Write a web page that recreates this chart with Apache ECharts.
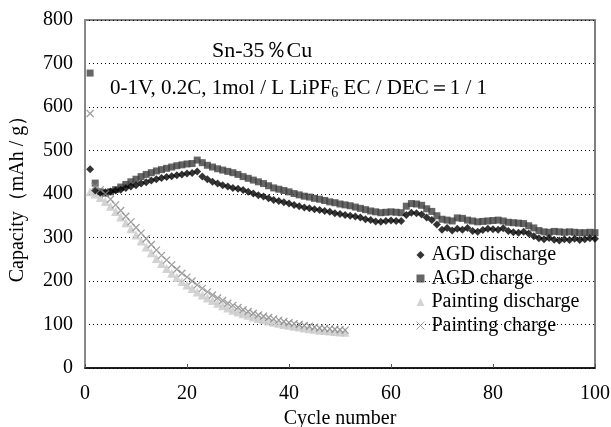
<!DOCTYPE html>
<html>
<head>
<meta charset="utf-8">
<script src="https://cdn.jsdelivr.net/npm/echarts@6/dist/echarts.min.js"></script>
<style>html,body{margin:0;padding:0;background:#fff}#c{width:611px;height:427px}</style>
</head>
<body>
<div id="c"></div>
<script>
var agdDischarge = [457,408,403,404,406,408,410,414,417,420,424,427,431,434,437,439,441,443,445,447,448,452,440,434,428,424,420,417,414,412,409,405,401,397,394,390,386,384,381,378,375,372,369,367,365,363,361,359,356,354,352,350,348,346,342,340,337,336,338,339,338,338,352,357,356,353,346,340,330,318,322,316,320,318,322,315,313,317,320,319,318,321,315,312,311,313,309,303,298,296,299,295,293,296,294,297,294,296,298,297];
var agdCharge = [678,425,405,402,405,410,416,422,428,434,440,445,449,453,456,459,462,465,467,469,470,478,472,466,462,458,455,452,449,445,440,436,432,428,424,419,414,411,408,405,401,398,395,393,390,388,385,382,380,377,375,373,370,367,364,361,359,357,358,359,358,357,372,378,377,374,366,360,350,342,340,338,345,344,340,338,336,337,338,339,340,338,335,334,333,332,327,322,316,313,312,314,313,312,313,312,311,311,312,311];
var paintDischarge = [405,400,392,383,372,360,347,334,320,306,292,278,265,252,240,229,218,208,199,191,183,175,168,161,155,149,143,138,133,129,125,121,117,114,111,108,105,103,100,98,96,94,92,90,89,87,86,85,84,83,82];
var paintCharge = [585,418,410,400,388,375,362,349,336,323,310,297,284,271,259,248,237,227,218,209,200,191,183,175,168,161,155,149,144,139,134,130,126,122,119,116,113,110,107,104,102,100,98,96,94,92,91,90,89,88,87];
var seriesNames = ['AGD discharge','AGD charge','Painting discharge','Painting charge'];
var xTicks = [0,20,40,60,80,100];
var yTicks = [0,100,200,300,400,500,600,700,800];

function pairs(arr){ return arr.map(function(v,i){ return [i+1, v]; }); }
var FONT = 'Liberation Serif';
var crossPath = 'path://M0,0L10,10M10,0L0,10';

var chart = echarts.init(document.getElementById('c'));
chart.setOption({
  animation:false,
  textStyle:{fontFamily:FONT},
  grid:{left:85,right:16,top:20,bottom:59,containLabel:false,outerBoundsMode:'none',show:true,borderColor:'#555',borderWidth:1.5,backgroundColor:'transparent'},
  legend:{
    orient:'vertical', left:414, top:245, itemGap:3.5, itemWidth:8, itemHeight:8,
    textStyle:{fontFamily:FONT,fontSize:20,color:'#000',padding:[0,0,0,2]},
    padding:0,
    data:[
      {name:seriesNames[0], icon:'diamond'},
      {name:seriesNames[1], icon:'rect'},
      {name:seriesNames[2], icon:'triangle'},
      {name:seriesNames[3], icon:crossPath, itemStyle:{color:'none',borderColor:'#888',borderWidth:1}}
    ]
  },
  xAxis:{
    type:'value', min:0, max:100, interval:20,
    name:'Cycle number', nameLocation:'middle', nameGap:37,
    nameTextStyle:{fontFamily:FONT,fontSize:20,color:'#000'},
    axisLine:{onZero:false,lineStyle:{color:'#000',width:1.5}},
    axisTick:{inside:true,length:4,lineStyle:{color:'#555'}},
    axisLabel:{fontFamily:FONT,fontSize:20,color:'#000',margin:16},
    splitLine:{show:false}
  },
  yAxis:{
    type:'value', min:0, max:800, interval:100,
    name:'Capacity\uff08mAh / g\uff09', nameLocation:'middle', nameGap:57,
    nameTextStyle:{fontFamily:FONT,fontSize:20,color:'#000'},
    axisLine:{show:true,lineStyle:{color:'#888',width:2}},
    axisTick:{show:false},
    axisLabel:{fontFamily:FONT,fontSize:20,color:'#000',margin:12},
    splitLine:{show:true,lineStyle:{color:'#000',type:[1,3],width:1}}
  },
  series:[
    {name:seriesNames[0], type:'scatter', data:pairs(agdDischarge), symbol:'diamond', symbolSize:8, itemStyle:{color:'#000'}, z:3},
    {name:seriesNames[1], type:'scatter', data:pairs(agdCharge), symbol:'rect', symbolSize:7, itemStyle:{color:'#404040'}, z:2},
    {name:seriesNames[2], type:'scatter', data:pairs(paintDischarge), symbol:'triangle', symbolSize:9, itemStyle:{color:'#c8c8c8'}, z:2},
    {name:seriesNames[3], type:'scatter', data:pairs(paintCharge), symbol:crossPath, symbolSize:7, itemStyle:{color:'none',borderColor:'#888',borderWidth:1.3}, z:3}
  ],
  graphic:[
    {type:'text', left:212, top:40, style:{text:'Sn-35\uff05Cu', font:'22px "Liberation Serif"', fill:'#000'}},
    {type:'text', left:110, top:78, style:{
      text:'0-1V, 0.2C, 1mol / L LiPF{s|6} EC / DEC\uff1d1 / 1',
      font:'21px "Liberation Serif"', fill:'#000',
      rich:{s:{fontFamily:FONT,fontSize:14,verticalAlign:'bottom',padding:[9,0,0,0]}}
    }}
  ]
});
</script>
</body>
</html>
